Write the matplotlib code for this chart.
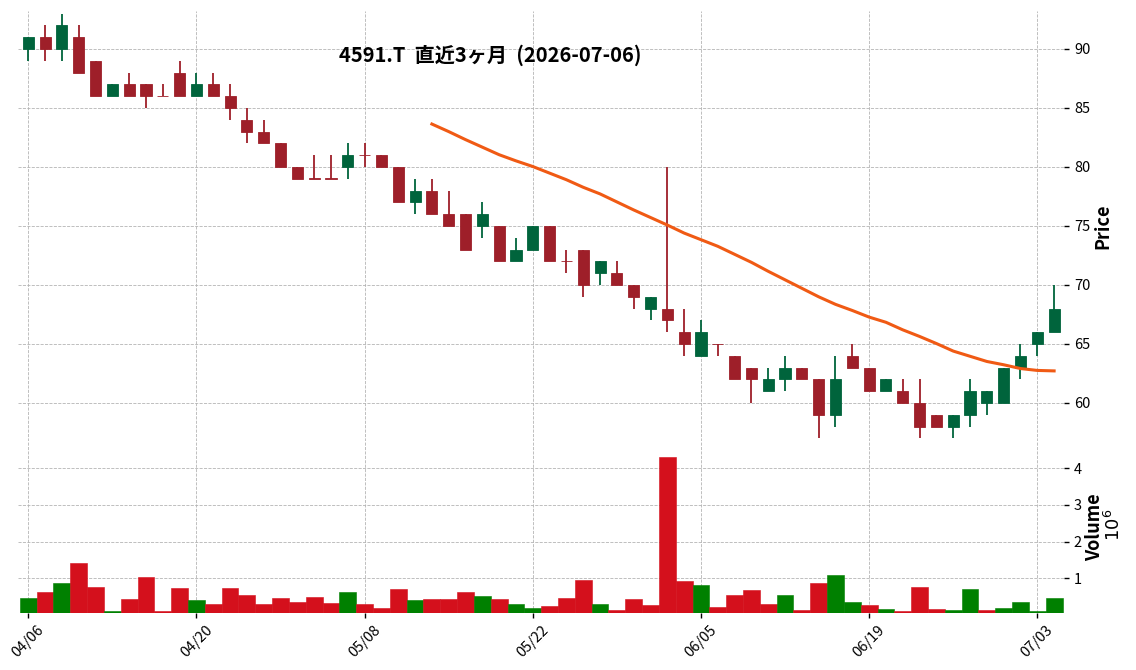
import numpy as np
import pandas as pd
import matplotlib
matplotlib.use("Agg")
from matplotlib import pyplot as plt

plt.rcParams['font.family'] = ['Noto Sans CJK JP', 'DejaVu Sans']

# **********************************************************************
# daily data, 4591.T

holidays = ["2026-04-29", "2026-05-04", "2026-05-05", "2026-05-06"]

opens  = [90, 91, 90, 91, 89, 86, 87, 87, 86, 88, 86, 87, 86, 84, 83, 82, 80, 79, 79, 80,
          81, 81, 80, 77, 78, 76, 76, 75, 75, 72, 73, 75, 72, 73, 71, 71, 70, 68, 68, 66,
          64, 65, 64, 63, 61, 62, 63, 62, 59, 64, 63, 61, 61, 60, 59, 58, 59, 60, 60, 63,
          65, 66]
highs  = [91, 92, 93, 92, 89, 87, 88, 87, 87, 89, 88, 88, 87, 85, 84, 82, 80, 81, 81, 82,
          82, 81, 80, 79, 79, 78, 76, 77, 75, 74, 75, 75, 73, 73, 72, 72, 70, 69, 80, 68,
          67, 65, 64, 63, 63, 64, 63, 62, 64, 65, 63, 62, 62, 62, 59, 59, 62, 61, 63, 65,
          66, 70]
lows   = [89, 89, 89, 88, 86, 86, 86, 85, 86, 86, 86, 86, 84, 82, 82, 80, 79, 79, 79, 79,
          80, 80, 77, 76, 76, 75, 73, 74, 72, 72, 73, 72, 71, 69, 70, 70, 68, 67, 66, 64,
          64, 64, 62, 60, 61, 61, 62, 57, 58, 63, 61, 61, 60, 57, 58, 57, 58, 59, 60, 62,
          64, 66]
closes = [91, 90, 92, 88, 86, 87, 86, 86, 86, 86, 87, 86, 85, 83, 82, 80, 79, 79, 79, 81,
          81, 80, 77, 78, 76, 75, 73, 76, 72, 73, 75, 72, 72, 70, 72, 70, 69, 69, 67, 65,
          66, 65, 62, 62, 62, 63, 62, 59, 62, 63, 61, 62, 60, 58, 58, 59, 61, 61, 63, 64,
          66, 68]
# volume in millions of shares
volumes = [0.46, 0.63, 0.87, 1.42, 0.76, 0.11, 0.44, 1.04, 0.11, 0.74, 0.41, 0.30, 0.74,
           0.55, 0.30, 0.46, 0.35, 0.49, 0.33, 0.63, 0.30, 0.19, 0.71, 0.41, 0.44, 0.44,
           0.63, 0.52, 0.44, 0.30, 0.19, 0.25, 0.46, 0.95, 0.30, 0.14, 0.44, 0.27, 4.31,
           0.93, 0.82, 0.22, 0.55, 0.68, 0.30, 0.55, 0.14, 0.87, 1.09, 0.35, 0.27, 0.16,
           0.11, 0.76, 0.16, 0.14, 0.71, 0.14, 0.19, 0.35, 0.11, 0.46]

dates = pd.bdate_range("2026-04-06", "2026-07-06", freq="C", holidays=holidays)
df = pd.DataFrame({"Open": opens, "High": highs, "Low": lows, "Close": closes,
                   "Volume": volumes}, index=dates)
df["MA25"] = df["Close"].rolling(25).mean()

# **********************************************************************

up_c, down_c = "#00643c", "#9e1f29"
vup_c, vdown_c = "#008000", "#d4101c"
x = np.arange(len(df))

fig = plt.figure(figsize=(11.36, 6.7), dpi=100)
ax = fig.add_axes([0.016, 0.3418, 0.9208, 0.6418])
axv = fig.add_axes([0.016, 0.0851, 0.9208, 0.2567], sharex=ax)

up = df["Close"] > df["Open"]
ccol = [up_c if u else down_c for u in up]
ax.vlines(x, df["Low"], df["High"], colors=ccol, linewidth=1.3, zorder=2)
body = (df["Close"] - df["Open"]).abs().clip(lower=0.04)
bottom = df[["Open", "Close"]].min(axis=1)
ax.bar(x, body, bottom=bottom, width=0.66, color=ccol, edgecolor=ccol,
       linewidth=0.6, zorder=3)
ax.plot(x, df["MA25"], color="#f05a14", linewidth=2.2, zorder=4)

prev = df["Close"].shift(1).fillna(df["Open"])
vcol = [vup_c if c > p else vdown_c for c, p in zip(df["Close"], prev)]
axv.bar(x, df["Volume"], width=1.0, color=vcol, edgecolor=vcol, linewidth=0.4, zorder=3)

# **********************************************************************

ticks = x[::10]
for a in (ax, axv):
    for s in a.spines.values():
        s.set_visible(False)
    a.grid(True, linestyle="--", color="#b4b4b4", linewidth=0.6, zorder=0)
    a.set_axisbelow(True)
    a.yaxis.tick_right()
    a.tick_params(axis="y", length=3.5, width=1, labelsize=10.5)
    a.set_xticks(ticks)

ax.set_xlim(-0.6, len(df) - 0.4)
ax.set_ylim(56.78, 93.22)
ax.set_yticks([60, 65, 70, 75, 80, 85, 90])
ax.tick_params(axis="x", length=0, labelbottom=False)

axv.set_ylim(0.054, 4.74)
axv.set_yticks([1, 2, 3, 4])
axv.set_xticklabels([d.strftime("%m/%d") for d in df.index[::10]],
                    rotation=45, ha="center", fontsize=10.5)
axv.tick_params(axis="x", length=3.5, width=1)

ax.yaxis.set_label_position("right")
ax.set_ylabel("Price", fontsize=13, fontweight="bold", labelpad=2)
axv.yaxis.set_label_position("right")
axv.set_ylabel("Volume", fontsize=13, fontweight="bold", labelpad=2)
fig.text(1114 / 1136, 1 - 525 / 670, r"$10^{6}$", rotation=90, fontsize=13,
         ha="center", va="center")

fig.text(490 / 1136, 1 - 55 / 670, "4591.T  直近3ヶ月  (2026-07-06)",
         fontsize=14.5, fontweight="bold", ha="center", va="center")

fig.savefig("out.png", dpi=100)
